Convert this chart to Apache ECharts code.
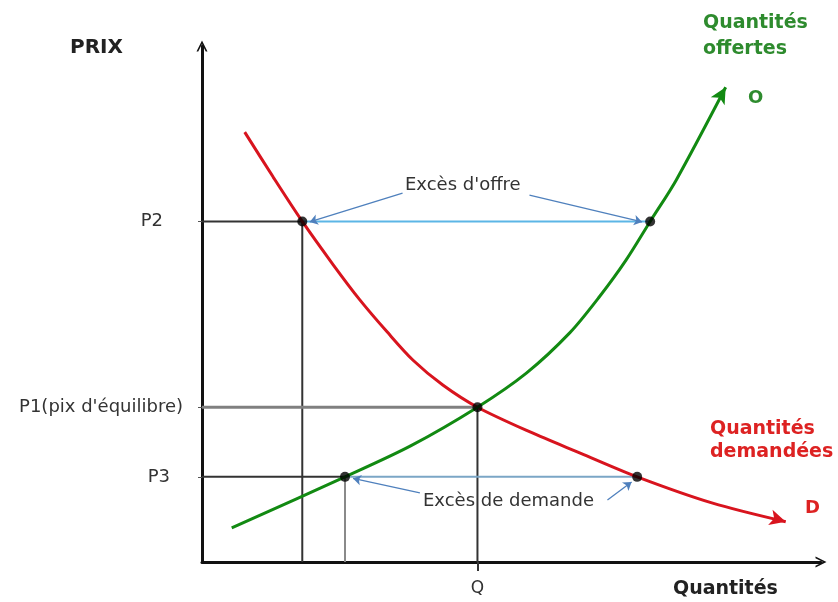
<!DOCTYPE html>
<html>
<head>
<meta charset="utf-8">
<script src="https://cdn.jsdelivr.net/npm/echarts@6/dist/echarts.min.js"></script>
<style>
  html, body { margin: 0; padding: 0; background: #fff; }
  #chart { width: 838px; height: 602px; }
</style>
</head>
<body>
<div id="chart"></div>
<script>
// price levels and equilibrium quantity
const P2 = 66;
const P1 = 30;
const P3 = 16.5;
const Q = 44.5;

// quantities where the curves cross P2 / P3
const demandAtP2 = 16.2;
const supplyAtP2 = 72.4;
const supplyAtP3 = 23.1;
const demandAtP3 = 70.3;

// supply curve (O), quantity / price
const supplyQ = [4.8, 23.1, 33.7, 44.5, 52.4, 59.4, 64.2, 68.5, 72.4, 76.6, 84.6];
const supplyP = [6.6, 16.5, 22.5, 30, 36.6, 44.4, 51.4, 58.5, 66, 74, 92];

// demand curve (D)
const demandQ = [6.9, 11.5, 16.2, 21.2, 25.5, 29.9, 34.1, 38.9, 44.5, 53, 61.1, 70.3, 82.5, 94.3];
const demandP = [83.3, 74.6, 66, 57.6, 50.8, 44.6, 39.1, 34.3, 30, 25.2, 21.1, 16.5, 11.4, 7.8];

// pointer lines from the two labels to the points
const offreLeaders = [[[32.4, 71.5], [17.4, 65.9]], [[52.9, 71.1], [71.1, 65.9]]];
const demandeLeaders = [[[35.2, 13.4], [24.4, 16.2]], [[65.5, 12.0], [69.4, 15.5]]];

const yTicks = [P3, P1, P2];
const yTickNames = ['P3', "P1(pix d'équilibre)", 'P2'];

const chevron = 'path://M5,0 L10,10 L8.4,10 L5,3.2 L1.6,10 L0,10 Z';
const FONT = 'DejaVu Sans';

function zip(a, b) { return a.map((v, i) => [v, b[i]]); }

function withArrow(points, rot) {
  const pts = points.map(p => ({ value: p }));
  pts[pts.length - 1] = { value: points[points.length - 1], symbol: 'arrow', symbolSize: [12, 16], symbolRotate: rot };
  return pts;
}

function guide(data, color, width) {
  return {
    type: 'line', data: data, symbol: 'none', silent: true,
    lineStyle: { color: color, width: width }, z: 1
  };
}

const chart = echarts.init(document.getElementById('chart'));

const option = {
  backgroundColor: '#fff',
  animation: false,
  grid: { left: 202, right: 17, top: 46, bottom: 40 },
  xAxis: {
    type: 'value', min: 0, max: 100,
    splitLine: { show: false },
    axisLine: {
      lineStyle: { color: '#111', width: 3 },
      symbol: ['none', chevron], symbolSize: [11, 12]
    },
    axisTick: { customValues: [Q], length: 9, lineStyle: { color: '#333', width: 2 } },
    axisLabel: {
      customValues: [Q], formatter: () => 'Q', margin: 18,
      fontFamily: FONT, fontSize: 17, color: '#333'
    }
  },
  yAxis: {
    type: 'value', min: 0, max: 100,
    splitLine: { show: false },
    axisLine: {
      lineStyle: { color: '#111', width: 3 },
      symbol: ['none', chevron], symbolSize: [11, 12]
    },
    axisTick: { customValues: yTicks, length: 4, lineStyle: { color: '#555', width: 1 } },
    axisLabel: {
      customValues: yTicks, margin: 19,
      fontFamily: FONT, fontSize: 18, color: '#333',
      formatter: v => {
        const i = yTicks.indexOf(v);
        if (i === 0) return '{p3|' + yTickNames[i] + '}';
        if (i === 2) return '{p2|' + yTickNames[i] + '}';
        return yTickNames[i];
      },
      rich: {
        p2: { fontFamily: FONT, fontSize: 18, color: '#333', padding: [0, 20, 0, 0] },
        p3: { fontFamily: FONT, fontSize: 18, color: '#333', padding: [0, 13, 0, 0] }
      }
    }
  },
  series: [
    guide([[0, P2], [demandAtP2, P2], [demandAtP2, 0]], '#333', 2),
    guide([[0, P1], [Q, P1]], '#808080', 3),
    guide([[Q, P1], [Q, 0]], '#333', 2),
    guide([[0, P3], [supplyAtP3, P3]], '#333', 2),
    guide([[supplyAtP3, P3], [supplyAtP3, 0]], '#8a8a8a', 2),
    guide([[demandAtP2, P2], [supplyAtP2, P2]], '#5cb6e6', 2),
    guide([[supplyAtP3, P3], [demandAtP3, P3]], '#7ba6c6', 2),
    {
      name: 'Quantités demandées', type: 'line', smooth: 0.3, z: 3,
      symbol: 'none', showSymbol: true,
      data: withArrow(zip(demandQ, demandP), -106),
      lineStyle: { color: '#d8141e', width: 3 },
      itemStyle: { color: '#d8141e' }
    },
    {
      name: 'Quantités offertes', type: 'line', smooth: 0.3, z: 3,
      symbol: 'none', showSymbol: true,
      data: withArrow(zip(supplyQ, supplyP), -30),
      lineStyle: { color: '#128a12', width: 3 },
      itemStyle: { color: '#128a12' }
    },
    {
      type: 'scatter', z: 5, symbolSize: 10,
      itemStyle: { color: '#000' },
      data: [[demandAtP2, P2], [supplyAtP2, P2], [Q, P1], [supplyAtP3, P3], [demandAtP3, P3]],
      markLine: {
        silent: true, symbol: ['none', 'arrow'], symbolSize: 8,
        label: { show: false },
        lineStyle: { color: '#4f80bd', width: 1.3, type: 'solid' },
        data: offreLeaders.concat(demandeLeaders).map(l => [{ coord: l[0] }, { coord: l[1] }])
      }
    }
  ],
  graphic: [
    { type: 'text', left: 70, top: 38, style: { text: 'PRIX', font: 'bold 20px ' + FONT, fill: '#222' } },
    { type: 'text', left: 673, top: 580, style: { text: 'Quantités', font: 'bold 19px ' + FONT, fill: '#222' } },
    { type: 'text', left: 703, top: 14, style: { text: 'Quantités', font: 'bold 19px ' + FONT, fill: '#2e8b2e' } },
    { type: 'text', left: 703, top: 40, style: { text: 'offertes', font: 'bold 19px ' + FONT, fill: '#2e8b2e' } },
    { type: 'text', left: 748, top: 89, style: { text: 'O', font: 'bold 18px ' + FONT, fill: '#2e8b2e' } },
    { type: 'text', left: 710, top: 420, style: { text: 'Quantités', font: 'bold 19px ' + FONT, fill: '#dd2222' } },
    { type: 'text', left: 710, top: 443, style: { text: 'demandées', font: 'bold 19px ' + FONT, fill: '#dd2222' } },
    { type: 'text', left: 805, top: 499, style: { text: 'D', font: 'bold 18px ' + FONT, fill: '#dd2222' } },
    { type: 'text', left: 405, top: 176, style: { text: "Excès d'offre", font: '18px ' + FONT, fill: '#333' } },
    { type: 'text', left: 423, top: 492, style: { text: 'Excès de demande', font: '18px ' + FONT, fill: '#333' } }
  ]
};

chart.setOption(option);
</script>
</body>
</html>
